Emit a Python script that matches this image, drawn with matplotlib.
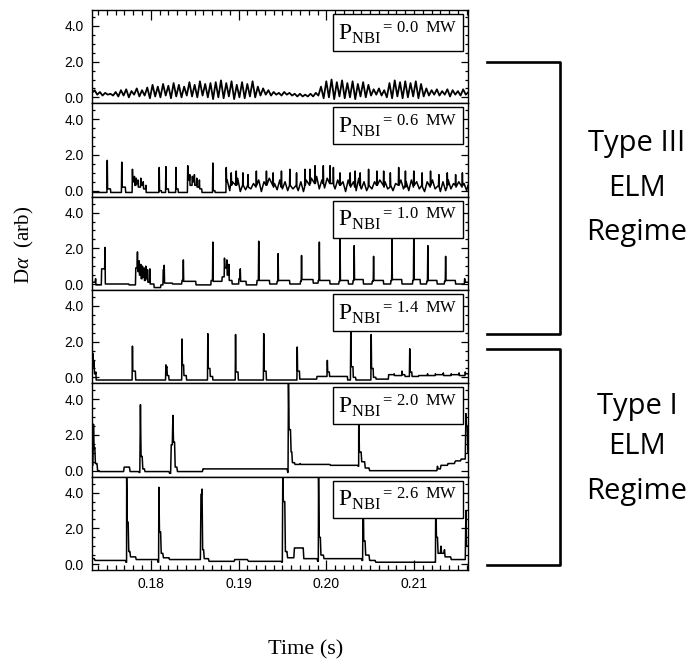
import matplotlib
matplotlib.use("Agg")
import matplotlib.pyplot as plt
from matplotlib.lines import Line2D
from matplotlib.ticker import MultipleLocator, FormatStrFormatter

plt.rcParams["font.family"] = ["Liberation Sans", "DejaVu Sans"]
plt.rcParams["mathtext.fontset"] = "custom"
plt.rcParams["mathtext.rm"] = "Liberation Serif"
plt.rcParams["mathtext.it"] = "Liberation Serif:italic"

# time window (ms)
t_start = 173.3
t_end = 216.15

powers = ["0.0", "0.6", "1.0", "1.4", "2.0", "2.6"]

# 0.0 MW: no ELMs, sampled D-alpha every 0.3 ms from t_start
p00_step = 0.3
p00_vals = [
    0.25, 0.40, 0.15, 0.30, 0.10, 0.25, 0.15, 0.20, 0.10, 0.30,
    0.05, 0.40, 0.10, 0.45, 0.00, 0.35, 0.15, 0.50, 0.05, 0.40, 0.10, 0.55,
    -0.05, 0.70, 0.05, 0.60, 0.00, 0.75, 0.10, 0.65, -0.05, 0.80, 0.05, 0.70, 0.00, 0.60, 0.10,
    0.85, 0.05, 0.70, 0.00, 0.90, 0.10, 0.75, 0.00, 0.80,
    -0.10, 0.85, 0.00, 0.95, -0.05, 0.80, 0.05, 0.90, -0.10, 0.70, 0.00, 0.85, -0.05, 0.75, 0.05, 0.90, 0.00, 0.60,
    0.10, 0.50, 0.15, 0.40, 0.10,
    0.30, 0.15, 0.25, 0.10, 0.30, 0.15, 0.25, 0.10, 0.20, 0.05, 0.20, 0.05, 0.15, 0.05, 0.20, 0.05, 0.25, 0.10,
    0.60, -0.05, 0.90, 0.00, 1.00, -0.10, 0.85, 0.05, 0.95, -0.05, 0.80, 0.00, 0.90, -0.10, 0.75, 0.05, 0.85, 0.00, 0.70,
    0.10, 0.45, 0.15, 0.50, 0.10, 0.40,
    0.00, 0.80, -0.05, 0.95, 0.05, 0.85, -0.05, 0.90, 0.00, 0.80, 0.05, 0.90, -0.05, 0.75, 0.05,
    0.50, 0.10, 0.40, 0.15, 0.45, 0.10, 0.35, 0.15, 0.45, 0.05, 0.40, 0.15, 0.35, 0.10, 0.45, 0.15, 0.30,
]

# ELM events: (time ms, peak, level after)
p06_events = [
    (175.00, 1.7, 0.1), (175.4, -0.1, -0.1),
    (176.65, 1.6, 0.2), (177.1, -0.1, -0.1),
    (177.87, 1.2, 0.5), (178.1, 0.8, 0.3), (178.3, 0.7, 0.4), (178.5, 0.6, 0.2),
    (178.82, 0.7, 0.3), (179.1, 0.5, 0.1), (179.4, 0.3, -0.1),
    (180.92, 1.3, 0.0), (181.2, -0.1, -0.1),
    (181.68, 1.35, 0.1), (182.0, -0.1, -0.1),
    (182.83, 1.3, 0.1), (183.1, -0.1, -0.1),
    (184.17, 1.4, 0.6), (184.4, 0.9, 0.3), (184.7, 0.8, 0.5), (184.93, 0.9, 0.3),
    (185.2, 0.7, 0.2), (185.5, 0.6, 0.1), (185.8, -0.1, -0.1),
    (187.03, 1.55, 0.0), (187.3, -0.1, -0.1),
    (188.56, 1.3, 0.5),
    (189.13, 1.0, 0.3), (189.70, 1.1, 0.3), (190.46, 1.0, 0.3), (191.04, 0.9, 0.2),
    (191.99, 1.1, 0.3), (193.14, 1.1, 0.3), (193.90, 1.0, 0.2), (194.85, 1.1, 0.3),
    (195.81, 1.2, 0.3), (196.57, 1.0, 0.2), (197.53, 1.2, 0.3), (198.10, 1.2, 0.4),
    (198.67, 1.4, 0.4), (199.62, 1.4, 0.4), (200.39, 1.4, 0.4), (200.77, 1.3, 0.3),
    (201.53, 1.0, 0.3), (202.68, 1.0, 0.2), (203.25, 1.1, 0.3), (203.82, 1.0, 0.2),
    (204.78, 1.2, 0.3), (205.73, 1.1, 0.3), (206.50, 1.1, 0.2), (207.26, 1.0, 0.3),
    (208.21, 1.3, 0.3), (208.98, 1.1, 0.2), (209.93, 1.1, 0.3), (210.88, 1.0, 0.2),
    (211.84, 1.1, 0.3), (212.79, 0.9, 0.2), (213.75, 1.0, 0.3), (214.70, 0.9, 0.2),
    (215.47, 1.0, 0.3),
]
# small fast activity between the 0.6 MW ELMs, every 0.3 ms
p06_noise_start = 188.7
p06_noise_step = 0.3
p06_noise = [
    0.6, 0.0, 0.5, 0.1, 0.7, -0.05, 0.5, 0.05, 0.6, 0.1,
    0.4, 0.0, 0.6, -0.05, 0.5, 0.1, 0.7, 0.0, 0.4, 0.05,
    0.6, 0.1, 0.5, 0.0, 0.7, 0.1, 0.6, 0.0, 0.5, -0.05,
    0.6, 0.1, 0.7, 0.15, 0.8, 0.1, 0.6, 0.15, 0.7, 0.0,
    0.5, 0.1, 0.6, 0.0, 0.5, -0.05, 0.6, 0.1, 0.5, 0.0,
    0.7, 0.1, 0.5, 0.0, 0.6, 0.1, 0.5, -0.05, 0.6, 0.0,
    0.5, 0.1, 0.6, 0.0, 0.4, -0.05, 0.6, 0.1, 0.5, 0.0,
    0.6, 0.0, 0.5, 0.1, 0.4, -0.05, 0.5, 0.0, 0.6, 0.1,
    0.4, -0.05, 0.5, 0.0, 0.6, 0.1, 0.4, -0.05, 0.5, 0.0,
    0.4, 0.0,
]

p10_events = [
    (173.67, 0.3, -0.05),
    (174.36, 0.85, 0.85), (174.74, 2.05, 0.0),
    (177.49, -0.05, -0.05),
    (178.25, 0.9, 0.9), (178.44, 1.8, 0.7), (178.63, 1.3, 0.5), (178.82, 1.1, 0.3),
    (179.01, 1.0, 0.4), (179.20, 0.9, 0.2), (179.39, 1.0, 0.3), (179.59, 0.8, 0.1),
    (179.85, 0.85, 0.0),
    (180.35, -0.2, -0.2), (181.11, -0.05, -0.05),
    (181.38, 0.8, 0.8), (181.49, 1.05, 0.05),
    (182.45, 0.0, 0.0),
    (183.52, 0.2, 0.2), (183.67, 1.35, 0.15),
    (185.12, -0.05, -0.05),
    (186.84, 0.2, 0.2), (187.03, 2.35, 0.15),
    (188.10, 0.4, 0.4), (188.36, 1.45, 0.9), (188.63, 1.35, 0.5), (188.86, 1.1, 0.2),
    (189.24, 0.0, 0.0),
    (190.01, 0.3, 0.3), (190.16, 0.85, 0.15),
    (190.85, -0.05, -0.05),
    (192.07, 0.2, 0.2), (192.26, 2.4, 0.2),
    (193.52, 0.0, 0.0),
    (194.36, 0.15, 0.15), (194.47, 1.7, 0.2),
    (195.81, 0.0, 0.0),
    (197.03, 0.15, 0.15), (197.14, 1.6, 0.25),
    (198.48, 0.05, 0.05),
    (199.05, 0.2, 0.2), (199.17, 2.35, 0.2),
    (200.39, 0.0, 0.0),
    (201.42, 0.15, 0.15), (201.53, 2.6, 0.2),
    (202.49, 0.0, 0.0),
    (203.02, 0.2, 0.2), (203.14, 2.15, 0.25),
    (204.20, 0.0, 0.0),
    (205.20, 0.15, 0.15), (205.35, 1.55, 0.2),
    (206.50, 0.0, 0.0),
    (207.33, 0.2, 0.2), (207.45, 2.6, 0.25),
    (208.59, 0.0, 0.0),
    (209.82, 0.2, 0.2), (209.93, 2.75, 0.25),
    (210.69, 0.0, 0.0),
    (211.42, 0.15, 0.15), (211.53, 2.15, 0.2),
    (212.60, 0.0, 0.0),
    (213.44, 0.15, 0.15), (213.56, 1.55, 0.2),
    (214.70, 0.0, 0.0),
    (215.73, 0.3, 0.1),
]

p14_events = [
    (173.35, 1.35, 0.6), (173.5, 0.9, 0.2), (173.7, 0.3, -0.15),
    (177.87, 1.75, 0.35), (178.2, 0.35, -0.15),
    (181.68, 0.7, 0.55), (181.8, 0.6, 0.1), (182.0, 0.1, -0.15),
    (183.52, 2.15, 0.7), (183.7, 0.7, 0.1), (184.0, 0.1, -0.15),
    (186.46, 2.45, 0.5), (186.7, 0.5, 0.05), (187.0, 0.05, -0.15),
    (189.62, 2.4, 0.3), (189.9, 0.3, -0.15),
    (192.83, 2.45, 0.35), (193.1, 0.35, -0.15),
    (196.65, 1.7, 0.35), (196.9, 0.35, -0.1),
    (198.9, 0.05, 0.05),
    (200.08, 0.95, 0.3), (200.3, 0.3, 0.05),
    (202.4, -0.15, -0.15),
    (202.75, 2.55, 0.6), (203.0, 0.6, 0.0), (203.3, 0.0, -0.15),
    (205.08, 2.4, 0.5), (205.3, 0.5, 0.0), (205.6, 0.0, -0.1),
    (207.07, 0.15, 0.15), (207.7, 0.2, 0.1),
    (208.59, 0.35, 0.15), (208.9, 0.15, 0.05),
    (209.47, 1.6, 0.3), (209.7, 0.3, 0.05),
    (210.5, 0.1, 0.1), (211.5, 0.2, 0.1), (212.4, 0.2, 0.15), (213.3, 0.25, 0.1),
    (214.2, 0.2, 0.15), (215.1, 0.25, 0.1), (215.8, 0.3, 0.2),
]

p20_events = [
    (173.4, 2.6, 1.2), (173.55, 1.3, 0.4), (173.8, 0.4, 0.0), (174.1, -0.05, -0.05),
    (176.9, 0.2, 0.2), (177.5, 0.2, -0.05),
    (178.60, -0.1, -0.1), (178.75, 3.7, 0.8), (178.95, 0.8, 0.1), (179.2, 0.1, -0.05),
    (182.07, -0.15, -0.15), (182.26, 1.45, 1.45), (182.45, 3.1, 1.6), (182.64, 1.6, 0.2),
    (182.9, 0.2, -0.05),
    (185.88, 0.1, 0.1),
    (195.5, 0.0, -0.1), (195.62, 4.9, 2.3), (195.85, 2.3, 1.05), (196.0, 1.05, 0.45),
    (196.3, 0.45, 0.35),
    (196.95, 0.4, 0.35),
    (200.4, 0.3, 0.3),
    (203.55, 0.3, 0.25), (203.63, 3.9, 1.05), (203.9, 1.05, 0.5), (204.3, 0.5, 0.15),
    (204.8, 0.15, 0.0),
    (212.6, 0.25, 0.1), (213.0, 0.3, 0.3), (213.8, 0.4, 0.4), (214.6, 0.5, 0.55),
    (215.3, 0.65, 0.65),
    (215.84, 3.2, 2.5), (216.0, 2.5, 1.0),
]

p26_events = [
    (173.5, 0.3, 0.2),
    (177.1, 0.1, 0.1), (177.18, 4.85, 2.35), (177.35, 2.35, 0.7), (177.55, 0.7, 0.4),
    (178.2, 0.4, 0.25),
    (180.75, 0.1, 0.1), (180.85, 4.3, 1.8), (181.05, 1.8, 0.6), (181.3, 0.6, 0.35),
    (182.0, 0.35, 0.25),
    (185.65, 3.9, 3.9), (185.77, 4.2, 0.8), (185.95, 0.8, 0.3), (186.5, 0.3, 0.15),
    (189.5, 0.25, 0.25), (191.0, 0.2, 0.15),
    (194.85, 0.1, 0.1), (194.97, 4.95, 3.5), (195.2, 3.5, 0.7), (195.45, 0.7, 0.35),
    (196.3, 0.9, 0.9), (197.3, 0.9, 0.3),
    (198.95, 0.15, 0.15), (199.05, 4.95, 1.5), (199.25, 1.5, 0.5), (199.6, 0.5, 0.3),
    (204.0, 0.2, 0.2), (204.13, 4.6, 1.3), (204.35, 1.3, 0.5), (204.8, 0.5, 0.2),
    (205.5, 0.2, 0.1),
    (212.3, 0.1, 0.1), (212.41, 4.4, 1.5), (212.6, 1.5, 0.6), (213.0, 1.0, 0.6),
    (213.4, 0.8, 0.4), (214.1, 0.4, 0.25),
    (215.84, 3.0, 1.0),
]


def build_trace(events, start_level, rise, noise=None):
    pts = [(t_start, start_level)]
    level = start_level
    for t, peak, after in events:
        pts += [(t, level), (t + rise, peak), (t + 2 * rise, after)]
        level = after
    pts.append((t_end, level))
    if noise is not None:
        n_start, n_step, n_vals = noise
        ev_times = [e[0] for e in events]
        for i, v in enumerate(n_vals):
            tn = n_start + i * n_step
            if min(abs(tn - te) for te in ev_times) > 0.12:
                pts.append((tn, v))
    pts.sort(key=lambda p: p[0])
    return [p[0] / 1000 for p in pts], [p[1] for p in pts]


traces = [
    ([(t_start + i * p00_step) / 1000 for i in range(len(p00_vals))], p00_vals),
    build_trace(p06_events, -0.1, 0.04, (p06_noise_start, p06_noise_step, p06_noise)),
    build_trace(p10_events, 0.1, 0.04),
    build_trace(p14_events, 0.9, 0.04),
    build_trace(p20_events, 0.3, 0.07),
    build_trace(p26_events, 0.3, 0.07),
]
line_widths = [1.3, 1.1, 1.1, 1.1, 1.1, 1.1]

W, H = 696, 668
fig = plt.figure(figsize=(W / 100, H / 100), dpi=100)
axes = fig.subplots(6, 1, sharex=True, gridspec_kw=dict(hspace=0))
fig.subplots_adjust(left=92 / W, right=468 / W, top=1 - 10 / H, bottom=1 - 570 / H)

for i, ax in enumerate(axes):
    x, y = traces[i]
    ax.plot(x, y, color="black", lw=line_widths[i], zorder=2)
    ax.set_xlim(t_start / 1000, t_end / 1000)
    ax.set_ylim(-0.336, 4.896)
    ax.yaxis.set_major_locator(MultipleLocator(2.0))
    ax.yaxis.set_minor_locator(MultipleLocator(0.5))
    ax.yaxis.set_major_formatter(FormatStrFormatter("%.1f"))
    ax.xaxis.set_major_locator(MultipleLocator(0.01))
    ax.xaxis.set_minor_locator(MultipleLocator(0.001))
    ax.xaxis.set_major_formatter(FormatStrFormatter("%.2f"))
    ax.tick_params(axis="y", which="both", direction="in", left=True, right=True,
                   labelsize=10, pad=6, width=0.9)
    ax.tick_params(axis="y", which="major", length=5)
    ax.tick_params(axis="y", which="minor", length=2.5)
    ax.tick_params(axis="x", which="both", direction="in", top=(i == 0),
                   bottom=(i == 5), labelbottom=(i == 5), labelsize=10, pad=5, width=0.9)
    ax.tick_params(axis="x", which="major", length=7)
    ax.tick_params(axis="x", which="minor", length=3.5)
    for s in ax.spines.values():
        s.set_linewidth(1.0)
    label = r"$\mathrm{P}_{\mathrm{NBI}}{}^{=\,\mathrm{" + powers[i] + r"}\ \ \mathrm{MW}}$"
    ax.text(0.972, 0.90, label, transform=ax.transAxes, ha="right", va="top",
            fontsize=17, zorder=5,
            bbox=dict(boxstyle="square,pad=0.22", fc="white", ec="black", lw=1.0))

fig.text(24 / W, 1 - 245 / H, r"D$\alpha$  (arb)", rotation=90, ha="center", va="center",
         fontsize=15, family="Liberation Serif")
fig.text(306 / W, 1 - 650 / H, "Time (s)", ha="center", va="center",
         fontsize=16, family="Liberation Serif")

# regime brackets (pixel layout)
brackets = [(62, 334), (349, 565)]
for top, bot in brackets:
    xs = [487 / W, 560 / W, 560 / W, 487 / W]
    ys = [1 - top / H, 1 - top / H, 1 - bot / H, 1 - bot / H]
    fig.add_artist(Line2D(xs, ys, color="black", lw=1.9, transform=fig.transFigure))

regime_text = [("Type III", 143), ("ELM", 188), ("Regime", 232),
               ("Type I", 407), ("ELM", 447), ("Regime", 492)]
for txt, yp in regime_text:
    fig.text(637 / W, 1 - yp / H, txt, ha="center", va="center", fontsize=21,
             family="Open Sans")

fig.savefig("out.png", dpi=100)
